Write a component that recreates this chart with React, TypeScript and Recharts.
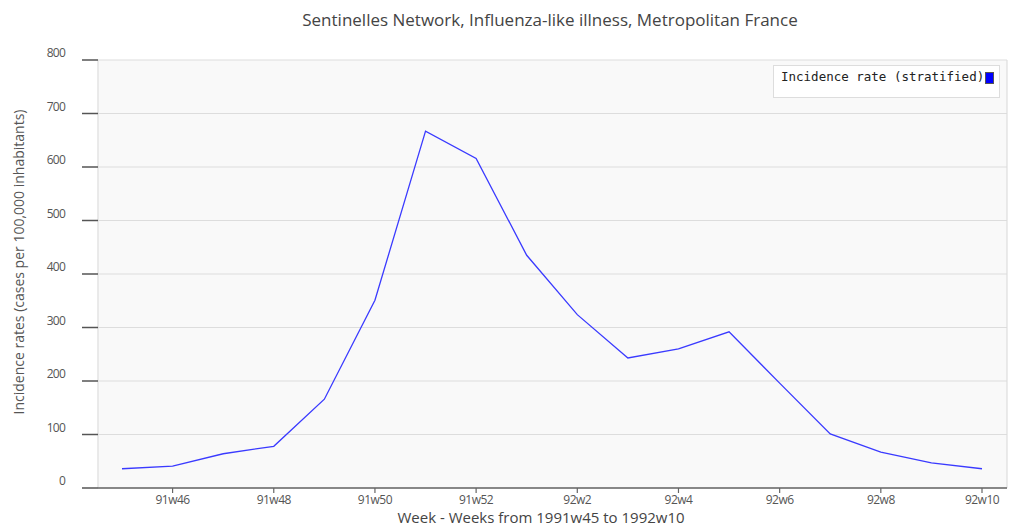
import { CartesianGrid, Line, LineChart, XAxis, YAxis } from "recharts";

// weekly ILI incidence, per 100,000 inhabitants
const WEEKS = [
  "91w45", "91w46", "91w47", "91w48", "91w49", "91w50", "91w51", "91w52",
  "92w1", "92w2", "92w3", "92w4", "92w5", "92w6", "92w7", "92w8", "92w9", "92w10",
];
const INCIDENCE = [36, 41, 64, 78, 166, 351, 667, 616, 435, 324, 243, 260, 292, 196, 101, 67, 47, 36];

const X_TICKS = ["91w46", "91w48", "91w50", "91w52", "92w2", "92w4", "92w6", "92w8", "92w10"];
const Y_TICKS = [0, 100, 200, 300, 400, 500, 600, 700, 800];

const data = WEEKS.map((week, i) => ({ week, rate: INCIDENCE[i] }));

const FONT = "'Open Sans', 'Noto Sans', sans-serif";

const YTick = (props: any) => {
  const { x, y, payload } = props;
  return (
    <text
      x={x - 15}
      y={y - 3}
      textAnchor="end"
      fill="#555"
      fontSize={12}
      fontFamily={FONT}
      letterSpacing={-0.8}
    >
      {payload.value}
    </text>
  );
};

const XTick = (props: any) => {
  const { x, y, payload } = props;
  return (
    <text x={x} y={y + 9} textAnchor="middle" fill="#555" fontSize={12} fontFamily={FONT} letterSpacing={-0.5}>
      {payload.value}
    </text>
  );
};

const LegendBox = () => (
  <div
    style={{
      position: "absolute",
      left: 773,
      top: 65,
      width: 225,
      height: 31,
      background: "#fff",
      border: "1px solid #ddd",
      zIndex: 2,
    }}
  >
    <span
      style={{
        position: "absolute",
        left: 7,
        top: 3,
        fontFamily: "'DejaVu Sans Mono', monospace",
        fontSize: 12.5,
        color: "#222",
        whiteSpace: "nowrap",
      }}
    >
      Incidence rate (stratified)
    </span>
    <span
      style={{
        position: "absolute",
        left: 211,
        top: 6,
        width: 7,
        height: 10,
        background: "#0000ff",
        border: "1px solid #555",
      }}
    />
  </div>
);

export default function App() {
  return (
    <div style={{ position: "absolute", left: 0, top: 0, width: 1011, height: 525, background: "#fff" }}>
      <div
        style={{
          position: "absolute",
          left: 0,
          width: 1100,
          top: 8,
          textAlign: "center",
          fontFamily: FONT,
          fontSize: 17,
          color: "#444",
        }}
      >
        Sentinelles Network, Influenza-like illness, Metropolitan France
      </div>

      <div
        style={{
          position: "absolute",
          left: 18,
          top: 262,
          transform: "translate(-50%, -50%) rotate(-90deg)",
          whiteSpace: "nowrap",
          fontFamily: FONT,
          fontSize: 14,
          color: "#555",
        }}
      >
        Incidence rates (cases per 100,000 inhabitants)
      </div>

      <div
        style={{
          position: "absolute",
          left: 541,
          top: 517,
          transform: "translate(-50%, -50%)",
          whiteSpace: "nowrap",
          fontFamily: FONT,
          fontSize: 15,
          color: "#444",
        }}
      >
        Week - Weeks from 1991w45 to 1992w10
      </div>

      <LegendBox />

      <LineChart width={1011} height={525} data={data} margin={{ top: 60, right: 0, bottom: 0, left: 0 }}>
        <CartesianGrid
          yAxisId="left"
          fill="#f9f9f9"
          stroke="#dddddd"
          strokeWidth={1.2}
          verticalPoints={[98, 1007]}
        />
        <XAxis
          dataKey="week"
          ticks={X_TICKS}
          height={37}
          padding={{ left: 24, right: 25 }}
          axisLine={{ stroke: "#666", strokeWidth: 1.5 }}
          tickLine={{ stroke: "#666", strokeWidth: 1.2 }}
          tickSize={5}
          tick={<XTick />}
          interval={0}
        />
        <YAxis
          yAxisId="left"
          width={98}
          domain={[0, 800]}
          ticks={Y_TICKS}
          axisLine={false}
          tickSize={16}
          tickLine={{ stroke: "#555", strokeWidth: 1.5 }}
          tick={<YTick />}
        />
        <YAxis
          yAxisId="right"
          orientation="right"
          width={4}
          domain={[0, 800]}
          ticks={Y_TICKS}
          axisLine={false}
          tickSize={4}
          tickLine={{ stroke: "#555", strokeWidth: 1.5 }}
          tick={() => <g />}
        />
        <Line
          yAxisId="left"
          type="linear"
          dataKey="rate"
          stroke="#3a3aff"
          strokeWidth={1.3}
          dot={false}
          activeDot={false}
          isAnimationActive={false}
        />
      </LineChart>
    </div>
  );
}
